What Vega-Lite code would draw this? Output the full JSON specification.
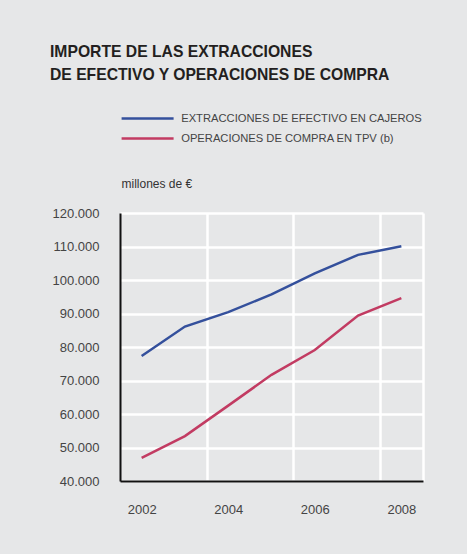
{
  "$schema": "https://vega.github.io/schema/vega-lite/v6.json",
  "width": 303,
  "height": 268,
  "autosize": {"type": "none"},
  "padding": {"left": 120, "top": 213, "right": 44, "bottom": 73},
  "background": "#e6e7e8",
  "title": {
    "text": ["IMPORTE DE LAS EXTRACCIONES", "DE EFECTIVO Y OPERACIONES DE COMPRA"],
    "anchor": "start",
    "frame": "group",
    "dx": -70,
    "offset": 29,
    "font": "Liberation Sans",
    "fontSize": 15.7,
    "fontWeight": "bold",
    "color": "#231f20",
    "lineHeight": 23
  },
  "data": {
    "values": [
      {"year": 2002, "serie": "EXTRACCIONES DE EFECTIVO EN CAJEROS", "value": 77300},
      {"year": 2003, "serie": "EXTRACCIONES DE EFECTIVO EN CAJEROS", "value": 86100},
      {"year": 2004, "serie": "EXTRACCIONES DE EFECTIVO EN CAJEROS", "value": 90400},
      {"year": 2005, "serie": "EXTRACCIONES DE EFECTIVO EN CAJEROS", "value": 95700},
      {"year": 2006, "serie": "EXTRACCIONES DE EFECTIVO EN CAJEROS", "value": 102000},
      {"year": 2007, "serie": "EXTRACCIONES DE EFECTIVO EN CAJEROS", "value": 107500},
      {"year": 2008, "serie": "EXTRACCIONES DE EFECTIVO EN CAJEROS", "value": 110100},
      {"year": 2002, "serie": "OPERACIONES DE COMPRA EN TPV (b)", "value": 46900},
      {"year": 2003, "serie": "OPERACIONES DE COMPRA EN TPV (b)", "value": 53400},
      {"year": 2004, "serie": "OPERACIONES DE COMPRA EN TPV (b)", "value": 62500},
      {"year": 2005, "serie": "OPERACIONES DE COMPRA EN TPV (b)", "value": 71700},
      {"year": 2006, "serie": "OPERACIONES DE COMPRA EN TPV (b)", "value": 79100},
      {"year": 2007, "serie": "OPERACIONES DE COMPRA EN TPV (b)", "value": 89400},
      {"year": 2008, "serie": "OPERACIONES DE COMPRA EN TPV (b)", "value": 94600}
    ]
  },
  "mark": {"type": "line", "strokeWidth": 2.5},
  "encoding": {
    "x": {
      "field": "year",
      "type": "quantitative",
      "scale": {"domain": [2001.5, 2008.5], "nice": false, "zero": false},
      "axis": {
        "title": null,
        "values": [2002, 2003.5, 2004, 2005.5, 2006, 2007.5, 2008, 2008.5],
        "labelExpr": "datum.value % 2 === 0 ? format(datum.value, 'd') : ''",
        "ticks": false,
        "labelPadding": 22,
        "labelFontSize": 13,
        "labelFont": "Liberation Sans",
        "labelColor": "#444444",
        "domainColor": "#111111",
        "domainWidth": 2,
        "grid": true,
        "gridColor": "#ffffff",
        "gridWidth": 2.5,
        "gridOpacity": {"condition": {"test": "datum.value % 1 === 0", "value": 0}, "value": 1}
      }
    },
    "y": {
      "field": "value",
      "type": "quantitative",
      "scale": {"domain": [40000, 120000], "nice": false, "zero": false},
      "axis": {
        "title": "millones de €",
        "titleAngle": 0,
        "titleAlign": "left",
        "titleBaseline": "middle",
        "titleX": 1,
        "titleY": -30,
        "titleFont": "Liberation Sans",
        "titleFontSize": 12,
        "titleFontWeight": "normal",
        "titleColor": "#333333",
        "values": [40000, 50000, 60000, 70000, 80000, 90000, 100000, 110000, 120000],
        "labelExpr": "replace(format(datum.value, ','), ',', '.')",
        "ticks": false,
        "labelPadding": 21,
        "labelFontSize": 13,
        "labelFont": "Liberation Sans",
        "labelColor": "#444444",
        "domainColor": "#111111",
        "domainWidth": 2,
        "grid": true,
        "gridColor": "#ffffff",
        "gridWidth": 2.5
      }
    },
    "color": {
      "field": "serie",
      "type": "nominal",
      "scale": {"range": ["#34509c", "#c23b62"]},
      "legend": {
        "title": null,
        "orient": "none",
        "legendX": 0,
        "legendY": -100,
        "symbolType": "M-2,0H24",
        "symbolSize": 16,
        "symbolStrokeWidth": 2.5,
        "rowPadding": 8,
        "labelOffset": 50,
        "labelLimit": 400,
        "labelFont": "Liberation Sans",
        "labelFontSize": 11.2,
        "labelColor": "#444444"
      }
    }
  },
  "config": {"view": {"stroke": null}}
}
